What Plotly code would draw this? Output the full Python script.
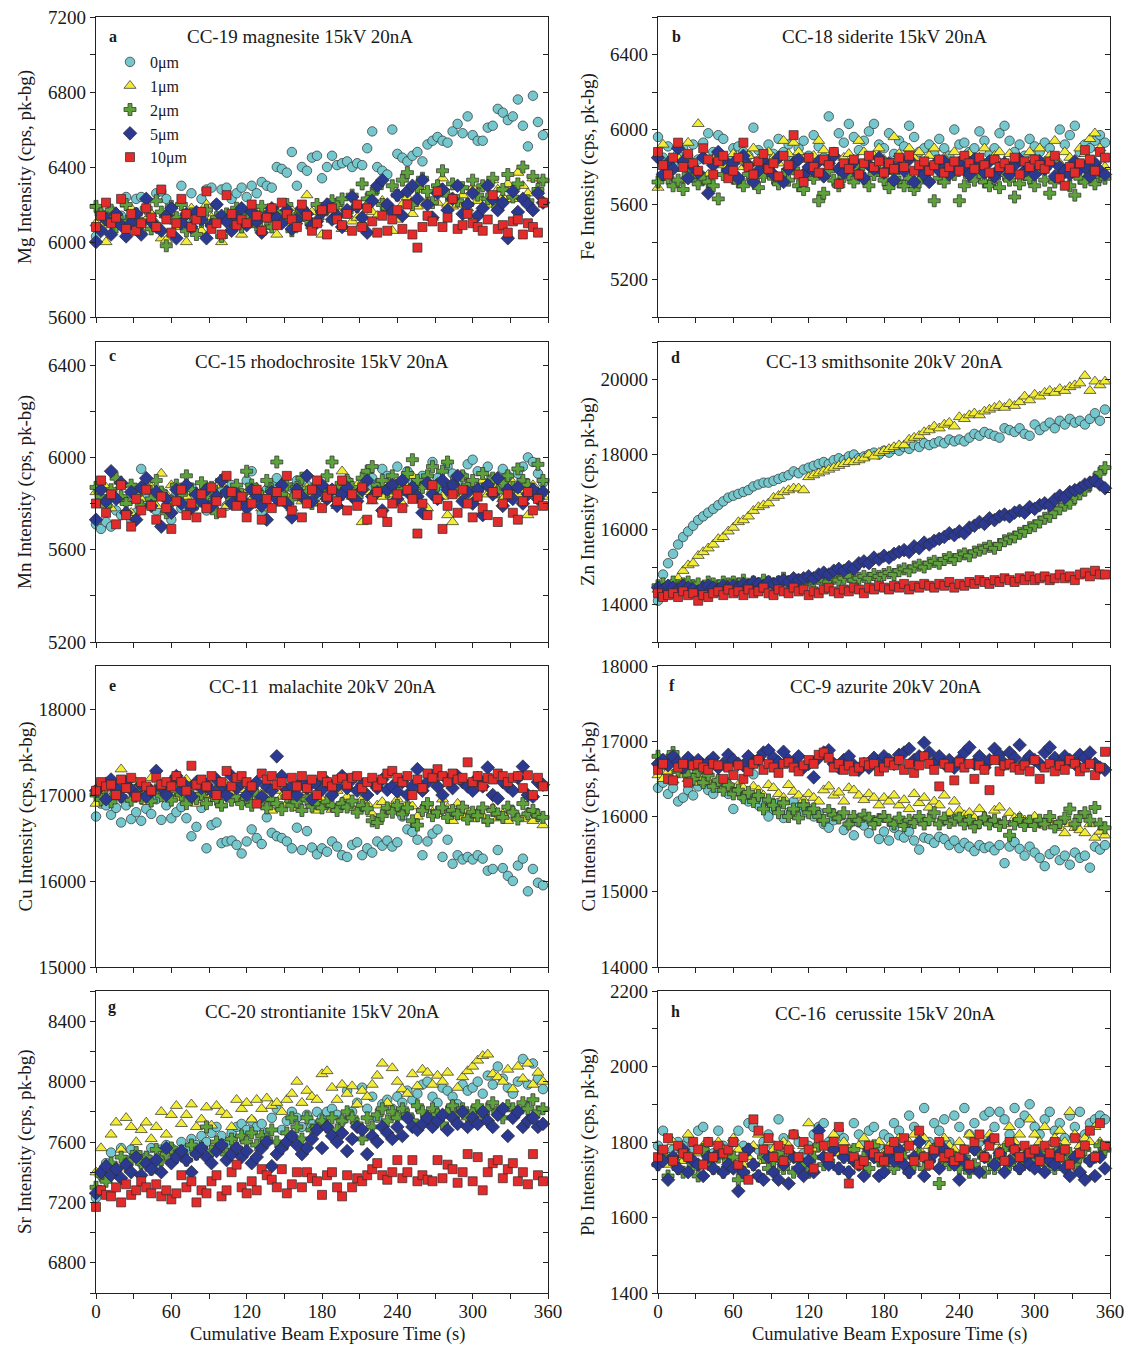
import plotly.graph_objects as go

# ---------------- data ----------------
TIME_S = list(range(0, 360, 4))  # cumulative beam exposure time (s)
SERIES_NAMES = ["0μm", "1μm", "2μm", "5μm", "10μm"]

# a  CC-19 magnesite, Mg intensity
MG_0 = [6030, 6150, 6120, 6170, 6090, 6140, 6240, 6130, 6230, 6240, 6180, 6140, 6260, 6270, 6230,
        6120, 6100, 6300, 6130, 6260, 6150, 6230, 6280, 6290, 6200, 6280, 6290, 6230, 6260, 6290,
        6240, 6300, 6260, 6320, 6300, 6290, 6400, 6390, 6370, 6480, 6300, 6400, 6380, 6450, 6460,
        6340, 6400, 6460, 6410, 6420, 6430, 6400, 6420, 6410, 6500, 6590, 6400, 6380, 6360, 6600,
        6470, 6450, 6430, 6460, 6480, 6430, 6520, 6540, 6560, 6540, 6530, 6590, 6630, 6580, 6670,
        6570, 6540, 6540, 6610, 6620, 6710, 6690, 6650, 6670, 6760, 6620, 6510, 6780, 6640, 6570]
MG_1 = [6100, 6080, 6000, 6130, 6160, 6090, 6200, 6180, 6100, 6060, 6120, 6150, 6100, 6020, 6010,
        6160, 6080, 6120, 6000, 6180, 6120, 6060, 6200, 6130, 6110, 6000, 6140, 6080, 6150, 6040,
        6110, 6130, 6090, 6180, 6080, 6160, 6040, 6120, 6100, 6170, 6110, 6130, 6250, 6160, 6100,
        6040, 6180, 6120, 6190, 6070, 6150, 6110, 6130, 6100, 6200, 6160, 6140, 6220, 6180, 6060,
        6120, 6200, 6240, 6150, 6190, 6280, 6220, 6130, 6210, 6340, 6200, 6190, 6200, 6250, 6180,
        6290, 6220, 6300, 6200, 6330, 6280, 6240, 6310, 6230, 6370, 6300, 6260, 6340, 6280, 6330]
MG_2 = [6190, 6150, 6120, 6170, 6080, 6110, 6200, 6130, 6150, 6100, 6180, 6070, 6220, 6160, 5980,
        6190, 6130, 6200, 6060, 6150, 6040, 6110, 6170, 6090, 6130, 6030, 6150, 6100, 6180, 6080,
        6140, 6160, 6090, 6190, 6120, 6080, 6160, 6110, 6200, 6060, 6140, 6170, 6120, 6080, 6200,
        6150, 6180, 6220, 6200, 6230, 6160, 6250, 6190, 6310, 6230, 6260, 6290, 6200, 6180, 6300,
        6250, 6330, 6370, 6200, 6290, 6340, 6270, 6210, 6300, 6380, 6250, 6310, 6220, 6290, 6200,
        6330, 6250, 6300, 6230, 6340, 6190, 6280, 6360, 6240, 6310, 6400, 6220, 6350, 6280, 6330]
MG_5 = [6000, 6060, 6120, 6040, 6150, 6090, 6030, 6100, 6150, 6040, 6230, 6110, 6080, 6060, 6140,
        6180, 6020, 6100, 6150, 6080, 6160, 6120, 6020, 6090, 6200, 6140, 6110, 6060, 6130, 6180,
        6090, 6160, 6110, 6050, 6140, 6180, 6130, 6100, 6170, 6070, 6120, 6180, 6150, 6090, 6110,
        6160, 6200, 6120, 6140, 6080, 6170, 6240, 6190, 6130, 6050, 6220, 6300, 6330, 6200, 6160,
        6250, 6140, 6270, 6300, 6230, 6330, 6200, 6130, 6260, 6280, 6170, 6230, 6300, 6150, 6200,
        6260, 6140, 6180, 6300, 6230, 6170, 6210, 6020, 6270, 6160, 6230, 6200, 6170, 6260, 6210]
MG_10 = [6080, 6140, 6210, 6100, 6130, 6230, 6070, 6150, 6060, 6100, 6180, 6130, 6080, 6280, 6120,
         6050, 6100, 6230, 6150, 6080, 6120, 6160, 6270, 6070, 6100, 6040, 6250, 6150, 6090, 6120,
         6100, 6200, 6140, 6060, 6130, 6180, 6090, 6210, 6150, 6120, 6080, 6200, 6140, 6060, 6100,
         6170, 6040, 6180, 6120, 6090, 6150, 6060, 6200, 6080, 6180, 6110, 6050, 6140, 6060, 6120,
         6170, 6070, 6200, 6040, 5970, 6080, 6140, 6110, 6270, 6080, 6130, 6230, 6070, 6090, 6150,
         6100, 6080, 6060, 6120, 6250, 6070, 6090, 6050, 6110, 6120, 6040, 6100, 6080, 6050, 6210]

# b  CC-18 siderite, Fe intensity
FE_0 = [5960, 5850, 5910, 5820, 5870, 5900, 5860, 5920, 5840, 5930, 5980, 5880, 5970, 5950, 5840,
        5900, 5910, 5880, 5860, 6010, 5890, 5820, 5920, 5870, 5950, 5880, 5920, 5840, 5900, 5940,
        5860, 5970, 5910, 5850, 6070, 5880, 5980, 5930, 6030, 5960, 5890, 5940, 5990, 6030, 5920,
        5900, 5980, 5870, 5940, 5910, 6020, 5960, 5880, 5900, 5920, 5870, 5950, 5900, 5860, 6000,
        5920, 5930, 5880, 5900, 5990, 5940, 5870, 5900, 5980, 6020, 5940, 5880, 5920, 5860, 5950,
        5910, 5880, 5930, 5900, 5850, 6000, 5920, 5970, 6020, 5880, 5920, 5900, 5940, 5970, 5930]
FE_1 = [5690, 5920, 5830, 5790, 5850, 5730, 5930, 5800, 6030, 5860, 5760, 5840, 5880, 5810, 5790,
        5870, 5830, 5800, 5860, 5900, 5840, 5800, 5880, 5850, 5820, 5940, 5870, 5930, 5880, 5840,
        5800, 5860, 5940, 5890, 5820, 5860, 5800, 5850, 5870, 5830, 5940, 5880, 5820, 5860, 5900,
        5840, 5810, 5960, 5870, 5830, 5900, 5850, 5880, 5820, 5860, 5900, 5840, 5850, 5810, 5880,
        5830, 5860, 5870, 5820, 5850, 5900, 5830, 5860, 5880, 5800, 5870, 5830, 5850, 5820, 5880,
        5840, 5900, 5830, 5860, 5940, 5820, 5880, 5850, 5830, 5900, 5870, 5950, 5980, 5900, 5800]
FE_2 = [5720, 5760, 5740, 5700, 5730, 5680, 5760, 5750, 5710, 5740, 5720, 5700, 5630, 5760, 5780,
        5740, 5720, 5700, 5760, 5730, 5690, 5750, 5780, 5740, 5710, 5760, 5730, 5790, 5700, 5680,
        5760, 5740, 5620, 5660, 5780, 5730, 5700, 5750, 5760, 5720, 5790, 5740, 5700, 5760, 5780,
        5730, 5690, 5770, 5720, 5700, 5740, 5680, 5720, 5760, 5790, 5620, 5740, 5720, 5780, 5760,
        5620, 5700, 5750, 5730, 5770, 5720, 5700, 5740, 5690, 5760, 5730, 5640, 5710, 5760, 5740,
        5700, 5790, 5730, 5660, 5720, 5750, 5780, 5700, 5650, 5740, 5720, 5760, 5710, 5750, 5740]
FE_5 = [5850, 5760, 5820, 5790, 5900, 5830, 5740, 5800, 5770, 5850, 5660, 5810, 5880, 5840, 5780,
        5820, 5740, 5860, 5810, 5720, 5780, 5830, 5800, 5760, 5850, 5720, 5790, 5820, 5840, 5760,
        5800, 5780, 5830, 5750, 5820, 5860, 5790, 5770, 5800, 5830, 5760, 5740, 5810, 5790, 5850,
        5770, 5820, 5730, 5800, 5780, 5840, 5720, 5790, 5760, 5720, 5810, 5780, 5830, 5760, 5800,
        5820, 5790, 5760, 5840, 5810, 5770, 5830, 5750, 5790, 5820, 5760, 5810, 5840, 5780, 5800,
        5760, 5830, 5790, 5820, 5750, 5800, 5780, 5760, 5830, 5790, 5800, 5750, 5820, 5780, 5760]
FE_10 = [5880, 5810, 5760, 5850, 5930, 5800, 5870, 5820, 5780, 5900, 5840, 5760, 5830, 5860, 5740,
         5780, 5850, 5930, 5800, 5760, 5830, 5870, 5790, 5820, 5750, 5860, 5810, 5970, 5760, 5720,
         5850, 5800, 5770, 5840, 5810, 5880, 5710, 5820, 5790, 5840, 5760, 5820, 5860, 5800, 5830,
         5770, 5820, 5790, 5850, 5800, 5860, 5780, 5810, 5830, 5780, 5810, 5840, 5770, 5800, 5830,
         5780, 5860, 5820, 5790, 5850, 5810, 5770, 5840, 5800, 5820, 5790, 5850, 5760, 5830, 5800,
         5840, 5810, 5790, 5830, 5860, 5740, 5700, 5800, 5770, 5820, 5890, 5840, 5780, 5880, 5850]

# c  CC-15 rhodochrosite, Mn intensity
MN_0 = [5710, 5690, 5720, 5700, 5770, 5750, 5810, 5730, 5760, 5950, 5820, 5800, 5770, 5850, 5790,
        5730, 5840, 5780, 5820, 5870, 5800, 5840, 5770, 5810, 5830, 5850, 5790, 5880, 5820, 5800,
        5900, 5940, 5830, 5760, 5860, 5880, 5910, 5840, 5820, 5870, 5900, 5860, 5880, 5850, 5830,
        5850, 5820, 5840, 5860, 5880, 5900, 5850, 5830, 5900, 5870, 5910, 5880, 5950, 5920, 5860,
        5960, 5880, 5940, 5900, 5870, 5920, 5890, 5980, 5910, 5850, 5960, 5930, 5890, 5920, 5970,
        5990, 5940, 5880, 5960, 5910, 5900, 5950, 5920, 5870, 5930, 5960, 6000, 5980, 5930, 5890]
MN_1 = [5850, 5800, 5870, 5780, 5830, 5880, 5810, 5760, 5850, 5820, 5900, 5870, 5790, 5930, 5840,
        5880, 5810, 5860, 5830, 5780, 5850, 5820, 5870, 5800, 5840, 5880, 5790, 5830, 5860, 5810,
        5850, 5820, 5870, 5780, 5840, 5860, 5800, 5890, 5830, 5780, 5860, 5810, 5870, 5840, 5800,
        5880, 5820, 5850, 5790, 5940, 5860, 5830, 5880, 5720, 5850, 5810, 5870, 5830, 5890, 5840,
        5860, 5800, 5870, 5920, 5840, 5880, 5780, 5860, 5890, 5830, 5750, 5720, 5870, 5840, 5880,
        5820, 5860, 5900, 5840, 5880, 5860, 5820, 5870, 5890, 5840, 5860, 5750, 5880, 5850, 5830]
MN_2 = [5870, 5830, 5790, 5860, 5910, 5830, 5800, 5880, 5840, 5790, 5870, 5820, 5900, 5850, 5760,
        5810, 5880, 5840, 5920, 5860, 5800, 5890, 5830, 5870, 5760, 5900, 5850, 5820, 5880, 5840,
        5940, 5880, 5850, 5830, 5900, 5860, 5980, 5840, 5880, 5820, 5870, 5910, 5850, 5800, 5880,
        5860, 5920, 5980, 5870, 5840, 5900, 5870, 5830, 5910, 5940, 5960, 5880, 5900, 5850, 5920,
        5880, 5860, 5930, 5990, 5900, 5870, 5920, 5960, 5880, 5940, 5980, 5890, 5860, 5920, 5880,
        5900, 5860, 5930, 5880, 5910, 5850, 5890, 5920, 5870, 5950, 5900, 5880, 5860, 5970, 5900]
MN_5 = [5730, 5860, 5810, 5940, 5820, 5890, 5760, 5850, 5730, 5870, 5910, 5790, 5850, 5700, 5820,
        5760, 5860, 5800, 5880, 5780, 5840, 5810, 5860, 5790, 5830, 5900, 5850, 5800, 5840, 5820,
        5780, 5860, 5830, 5790, 5730, 5850, 5820, 5880, 5800, 5740, 5860, 5830, 5920, 5810, 5850,
        5880, 5820, 5860, 5790, 5840, 5870, 5830, 5810, 5860, 5900, 5830, 5850, 5770, 5860, 5880,
        5820, 5900, 5850, 5870, 5830, 5760, 5890, 5840, 5820, 5900, 5860, 5880, 5920, 5810, 5850,
        5800, 5860, 5750, 5880, 5840, 5910, 5790, 5860, 5820, 5870, 5800, 5840, 5860, 5820, 5850]
MN_10 = [5800, 5900, 5760, 5840, 5710, 5880, 5750, 5700, 5820, 5770, 5860, 5790, 5730, 5830, 5780,
         5690, 5810, 5860, 5750, 5800, 5740, 5840, 5780, 5870, 5810, 5760, 5920, 5850, 5790, 5830,
         5740, 5800, 5860, 5730, 5820, 5780, 5850, 5810, 5920, 5770, 5840, 5740, 5800, 5860, 5900,
         5780, 5830, 5860, 5810, 5900, 5770, 5840, 5790, 5870, 5730, 5820, 5850, 5760, 5720, 5800,
         5840, 5780, 5860, 5820, 5670, 5800, 5750, 5880, 5820, 5690, 5790, 5840, 5760, 5860, 5800,
         5740, 5830, 5780, 5750, 5850, 5720, 5800, 5840, 5760, 5730, 5810, 5850, 5770, 5820, 5790]

# d  CC-13 smithsonite, Zn intensity
ZN_0 = [14100, 14800, 15100, 15350, 15600, 15800, 15950, 16100, 16250, 16350, 16450, 16550, 16650, 16750, 16850,
        16900, 16950, 17000, 17050, 17150, 17200, 17250, 17250, 17300, 17350, 17400, 17450, 17550, 17500, 17600,
        17650, 17700, 17750, 17800, 17750, 17850, 17900, 17850, 17950, 18000, 17900, 17950, 18000, 18050, 18000,
        18100, 18050, 18150, 18100, 18200, 18150, 18250, 18200, 18300, 18250, 18300, 18350, 18300, 18400, 18350,
        18400, 18350, 18450, 18550, 18500, 18600, 18550, 18500, 18450, 18700, 18650, 18600, 18700, 18550, 18500,
        18800, 18650, 18750, 18850, 18700, 18900, 18800, 18950, 18850, 18900, 18800, 18950, 19100, 18900, 19200]
ZN_1 = [14400, 14450, 14500, 14600, 14700, 14900, 15050, 15100, 15300, 15400, 15500, 15600, 15750, 15800, 15950,
        16050, 16200, 16250, 16350, 16500, 16600, 16650, 16700, 16850, 16900, 17000, 17050, 17100, 17100, 17050,
        17400, 17450, 17500, 17550, 17600, 17650, 17700, 17750, 17800, 17800, 17850, 17900, 18000, 17950, 18050,
        18100, 18150, 18200, 18250, 18250, 18400, 18450, 18500, 18600, 18650, 18750, 18700, 18800, 18850, 18750,
        19000, 18950, 19050, 19100, 19050, 19150, 19200, 19250, 19300, 19250, 19350, 19300, 19400, 19550, 19450,
        19600, 19550, 19650, 19700, 19650, 19750, 19700, 19800, 19850, 19900, 20100, 19700, 19950, 19850, 19950]
ZN_2 = [14500, 14550, 14450, 14600, 14500, 14550, 14600, 14500, 14550, 14450, 14600, 14550, 14500, 14600, 14550,
        14600, 14550, 14650, 14500, 14600, 14550, 14650, 14600, 14550, 14600, 14700, 14600, 14550, 14650, 14600,
        14650, 14600, 14700, 14650, 14600, 14700, 14650, 14700, 14750, 14650, 14700, 14750, 14700, 14800, 14750,
        14800, 14850, 14800, 14900, 14950, 14900, 15000, 15050, 15000, 15100, 15150, 15100, 15200, 15250, 15200,
        15300, 15350, 15300, 15400, 15450, 15500, 15550, 15500, 15600, 15700, 15750, 15800, 15900, 15950, 16050,
        16100, 16200, 16300, 16350, 16450, 16550, 16650, 16700, 16850, 16950, 17050, 17200, 17350, 17500, 17650]
ZN_5 = [14450, 14400, 14500, 14450, 14400, 14500, 14450, 14400, 14350, 14450, 14500, 14450, 14400, 14500, 14450,
        14500, 14450, 14550, 14500, 14600, 14550, 14500, 14600, 14550, 14600, 14650, 14600, 14700, 14650, 14700,
        14750, 14700, 14800, 14850, 14800, 14900, 14950, 14900, 15000, 14950, 15100, 15150, 15100, 15250, 15200,
        15300, 15250, 15350, 15400, 15450, 15400, 15550, 15500, 15650, 15600, 15700, 15750, 15800, 15900, 15850,
        15950, 15900, 16050, 16100, 16200, 16150, 16300, 16250, 16350, 16400, 16350, 16450, 16500, 16450, 16600,
        16550, 16650, 16700, 16650, 16800, 16900, 16850, 17000, 17050, 17100, 17200, 17250, 17300, 17200, 17100]
ZN_10 = [14300, 14200, 14250, 14300, 14200, 14350, 14250, 14300, 14100, 14250, 14200, 14300, 14350, 14250, 14400,
         14300, 14350, 14250, 14400, 14300, 14350, 14450, 14300, 14250, 14400, 14350, 14300, 14450, 14350, 14400,
         14250, 14350, 14300, 14400, 14450, 14350, 14300, 14400, 14350, 14450, 14400, 14300, 14450, 14400, 14500,
         14450, 14400, 14500, 14450, 14550, 14400, 14500, 14450, 14550, 14500, 14450, 14550, 14500, 14600, 14450,
         14550, 14500, 14600, 14550, 14650, 14600, 14550, 14650, 14600, 14700, 14650, 14600, 14700, 14650, 14750,
         14650, 14700, 14750, 14650, 14700, 14800, 14700, 14750, 14650, 14800, 14850, 14750, 14900, 14800, 14800]

# e  CC-11 malachite, Cu intensity
CUM_0 = [16750, 16900, 16880, 16770, 16850, 16680, 16880, 16720, 16800, 16700, 16840, 16780, 16950, 16710, 16880,
         16730, 16800, 16860, 16730, 16520, 16630, 16850, 16380, 16650, 16680, 16440, 16460, 16470, 16420, 16320,
         16460, 16600, 16500, 16430, 16740, 16560, 16520, 16500, 16460, 16380, 16620, 16360, 16580, 16390, 16310,
         16380, 16340, 16460, 16400, 16300, 16280, 16420, 16450, 16300, 16380, 16330, 16460, 16410, 16470, 16400,
         16450, 16750, 16600, 16570, 16480, 16300, 16460, 16550, 16600, 16280, 16480, 16200, 16300, 16250, 16280,
         16250, 16300, 16260, 16120, 16140, 16360, 16150, 16060, 16000, 16180, 16260, 15880, 16140, 15980, 15950]
CUM_1 = [16900, 17000, 17150, 16980, 17050, 17300, 17100, 16950, 17150, 17080, 16920, 17200, 17050, 17120, 17000,
         17080, 16970, 17050, 17180, 17020, 16900, 17100, 17000, 16960, 17080, 16880, 17120, 17020, 16950, 17060,
         16980, 17100, 16900, 17020, 16950, 16820, 17050, 16980, 16900, 17000, 16850, 16950, 17030, 16880, 16820,
         16950, 16880, 16830, 17050, 16920, 16980, 16850, 16820, 16950, 16900, 16780, 16880, 16920, 16830, 16870,
         16950, 16800, 16900, 16870, 16750, 16850, 16900, 16800, 16780, 16950, 16850, 16700, 16900, 16750, 16820,
         16720, 16800, 16760, 16700, 16850, 16730, 16780, 16700, 16820, 16740, 16720, 16800, 16700, 16760, 16650]
CUM_2 = [17000, 16950, 17080, 16920, 17020, 16980, 17100, 16940, 17050, 16970, 17000, 16930, 17060, 16990, 17030,
         16940, 17050, 17000, 16900, 17080, 16960, 17010, 16900, 17030, 16950, 16880, 17000, 16940, 16980, 16900,
         16960, 16880, 17000, 16920, 16850, 16950, 16900, 16830, 16980, 16880, 16920, 16820, 16950, 16870, 16900,
         16850, 16920, 16880, 16820, 16900, 16860, 16930, 16800, 16880, 16840, 16700, 16680, 16760, 16850, 16800,
         16880, 16780, 16850, 16700, 16650, 16820, 16900, 16760, 16800, 16850, 16740, 16820, 16780, 16860, 16720,
         16800, 16760, 16850, 16700, 16820, 16780, 16740, 16860, 16800, 16720, 16900, 16780, 16820, 16760, 16740]
CUM_5 = [17050, 17100, 16950, 17180, 17080, 16980, 17150, 17060, 17000, 17120, 16980, 17050, 17280, 17100, 17000,
         17150, 17220, 17060, 17100, 16980, 17150, 17080, 17120, 17050, 17180, 17100, 17000, 17220, 17080, 17140,
         17000, 17080, 17150, 16980, 17100, 17050, 17450, 17220, 17060, 17100, 17000, 17150, 17080, 16950, 17120,
         17060, 17150, 17000, 17100, 17220, 17080, 17180, 17050, 17120, 17000, 17150, 17080, 17180, 17060, 17100,
         17040, 17150, 17000, 17100, 17300, 17050, 17150, 17220, 17100, 17000, 17180, 17080, 17220, 17150, 17100,
         17050, 17200, 17100, 17320, 17000, 16960, 17150, 17100, 17050, 17200, 17330, 17000, 16980, 17150, 17120]
CUM_10 = [17050, 17150, 17100, 17120, 17000, 17180, 17080, 17200, 16980, 17150, 17100, 17050, 17200, 17120, 17150,
          17100, 17220, 17150, 17050, 17340, 17120, 17180, 17100, 17220, 17000, 17150, 17280, 17100, 17200, 17220,
          17150, 17100, 16900, 17250, 17180, 17220, 17120, 17150, 17000, 17200, 17100, 17220, 17080, 17180, 17000,
          17220, 17150, 17100, 17180, 17200, 17120, 17200, 17220, 17080, 17150, 17200, 17100, 17180, 17250, 17280,
          17200, 17150, 17220, 17000, 17180, 17080, 17250, 17200, 17300, 17220, 17150, 17250, 17180, 17200, 17380,
          17150, 17220, 17100, 17200, 17180, 17250, 17220, 17150, 17200, 17220, 17080, 17230, 17000, 17200, 17100]

# f  CC-9 azurite, Cu intensity
CUA_0 = [16380, 16450, 16300, 16380, 16200, 16250, 16350, 16280, 16400, 16450, 16350, 16300, 16380, 16420, 16300,
         16100, 16350, 16250, 16200, 16560, 16150, 16200, 16000, 16100, 16180, 15980, 16050, 16200, 16120, 16050,
         16100, 16000, 16050, 15900, 15850, 15950, 16000, 15820, 15900, 15750, 15920, 15880, 15780, 15950, 15700,
         15800, 15680, 15850, 15750, 15720, 15800, 15680, 15560, 15720, 15700, 15650, 15730, 15700, 15620, 15680,
         15580, 15650, 15600, 15540, 15620, 15580, 15600, 15550, 15620, 15380, 15600, 15660, 15570, 15480, 15600,
         15520, 15450, 15340, 15500, 15550, 15420, 15480, 15360, 15520, 15450, 15480, 15320, 15600, 15560, 15620]
CUA_1 = [16550, 16500, 16600, 16480, 16620, 16550, 16500, 16450, 16600, 16520, 16480, 16420, 16500, 16380, 16450,
         16350, 16420, 16380, 16300, 16400, 16350, 16280, 16420, 16380, 16300, 16250, 16420, 16330, 16280, 16220,
         16300, 16250, 16200, 16350, 16400, 16280, 16320, 16200, 16380, 16350, 16280, 16220, 16300, 16250, 16150,
         16250, 16200, 16280, 16150, 16220, 16100, 16300, 16180, 16250, 16120, 16200, 16150, 16280, 16050, 16200,
         16080, 16020, 16050, 15980, 16100, 16000, 15950, 16080, 16120, 15900, 16050, 15980, 16000, 15950, 15920,
         16000, 15950, 15880, 15980, 15920, 15850, 15780, 15900, 15850, 15820, 15780, 15900, 15720, 15800, 15750]
CUA_2 = [16800, 16700, 16750, 16850, 16600, 16650, 16550, 16500, 16600, 16450, 16550, 16400, 16480, 16350, 16420,
         16300, 16350, 16250, 16320, 16200, 16280, 16100, 16220, 16150, 16050, 16180, 16000, 16100, 15980, 16150,
         16050, 16100, 16000, 15950, 16080, 16020, 15980, 16050, 15900, 16000, 15950, 16020, 15980, 15900, 15960,
         16000, 15950, 15900, 15980, 15880, 15950, 15920, 16000, 15900, 15960, 16050, 15900, 15980, 15920, 15950,
         15980, 15900, 15950, 15860, 15920, 15980, 15900, 15950, 15880, 15920, 15750, 15900, 15960, 15880, 15940,
         15880, 15950, 15900, 16000, 15860, 15920, 15980, 16100, 15900, 16000, 16050, 15950, 16120, 15900, 15850]
CUA_5 = [16700, 16750, 16680, 16800, 16720, 16650, 16780, 16700, 16750, 16680, 16720, 16780, 16650, 16700, 16820,
         16750, 16700, 16680, 16800, 16720, 16760, 16850, 16880, 16780, 16720, 16860, 16750, 16700, 16800, 16650,
         16700, 16520, 16780, 16850, 16880, 16700, 16650, 16750, 16800, 16680, 16620, 16700, 16650, 16780, 16700,
         16800, 16750, 16700, 16820, 16850, 16900, 16750, 16800, 16980, 16850, 16720, 16800, 16700, 16750, 16650,
         16750, 16850, 16920, 16700, 16800, 16650, 16750, 16900, 16820, 16700, 16850, 16780, 16950, 16720, 16800,
         16750, 16700, 16850, 16920, 16780, 16700, 16800, 16750, 16700, 16820, 16780, 16850, 16700, 16650, 16620]
CUA_10 = [16620, 16700, 16500, 16480, 16650, 16700, 16450, 16680, 16700, 16650, 16620, 16700, 16680, 16500, 16650,
          16550, 16680, 16500, 16600, 16700, 16750, 16620, 16700, 16650, 16580, 16700, 16720, 16650, 16600, 16680,
          16750, 16700, 16820, 16850, 16780, 16650, 16700, 16620, 16680, 16600, 16650, 16720, 16680, 16700, 16600,
          16650, 16720, 16680, 16750, 16620, 16700, 16580, 16680, 16800, 16700, 16620, 16400, 16700, 16650, 16480,
          16720, 16650, 16700, 16500, 16680, 16620, 16350, 16750, 16600, 16680, 16700, 16650, 16620, 16680, 16600,
          16750, 16500, 16650, 16700, 16600, 16680, 16620, 16750, 16700, 16600, 16650, 16700, 16550, 16650, 16860]

# g  CC-20 strontianite, Sr intensity
SR_0 = [7230, 7380, 7460, 7530, 7400, 7560, 7480, 7550, 7520, 7460, 7500, 7560, 7420, 7550, 7580,
        7560, 7520, 7600, 7550, 7620, 7580, 7640, 7600, 7660, 7700, 7640, 7580, 7660, 7700, 7720,
        7680, 7740, 7700, 7720, 7660, 7760, 7820, 7680, 7740, 7800, 7760, 7700, 7780, 7720, 7800,
        7760, 7800, 7820, 7780, 7740, 7940, 7800, 7860, 7960, 7820, 7900, 7760, 7850, 7880, 7820,
        7900, 7860, 7940, 7880, 7920, 7980, 8000, 7900, 7860, 7960, 7940, 7900, 7850, 7980, 7940,
        7960, 8000, 7920, 8040, 7980, 8100, 8020, 7960, 7920, 8000, 8150, 7980, 8120, 8020, 7950]
SR_1 = [7400, 7560, 7450, 7650, 7730, 7550, 7760, 7700, 7600, 7680, 7730, 7620, 7700, 7800, 7650,
        7780, 7840, 7720, 7780, 7850, 7700, 7750, 7830, 7710, 7840, 7800, 7780, 7700, 7880, 7820,
        7860, 7750, 7880, 7820, 7890, 7840, 7860, 7800, 7880, 7920, 8000, 7860, 7940, 7900, 7880,
        8050, 8070, 7960, 7880, 7980, 7920, 7970, 7850, 7940, 7900, 7980, 8040, 8120, 7860, 8090,
        8000, 7950, 7920, 8050, 7970, 8080, 8060, 7980, 8040, 8000, 8060, 7850, 7960, 8030, 8070,
        8100, 8140, 8170, 8180, 8050, 8030, 8000, 8080, 7950, 8100, 8020, 8120, 7980, 8060, 8000]
SR_2 = [7300, 7380, 7340, 7460, 7420, 7500, 7440, 7480, 7530, 7460, 7500, 7420, 7550, 7480, 7520,
        7560, 7500, 7540, 7480, 7580, 7520, 7560, 7700, 7540, 7600, 7580, 7520, 7620, 7560, 7640,
        7600, 7660, 7580, 7640, 7620, 7680, 7600, 7560, 7660, 7760, 7700, 7620, 7760, 7680, 7700,
        7740, 7700, 7760, 7680, 7740, 7800, 7760, 7720, 7620, 7760, 7700, 7780, 7820, 7740, 7800,
        7760, 7820, 7780, 7740, 7840, 7800, 7760, 7820, 7780, 7720, 7800, 7840, 7780, 7820, 7760,
        7800, 7840, 7780, 7820, 7860, 7800, 7760, 7840, 7820, 7800, 7860, 7820, 7880, 7800, 7820]
SR_5 = [7260, 7400, 7440, 7380, 7420, 7360, 7450, 7400, 7500, 7380, 7460, 7420, 7480, 7400, 7560,
        7460, 7500, 7540, 7480, 7400, 7520, 7560, 7500, 7460, 7540, 7580, 7480, 7520, 7560, 7500,
        7540, 7460, 7500, 7560, 7600, 7440, 7520, 7560, 7600, 7640, 7580, 7520, 7560, 7620, 7680,
        7560, 7700, 7640, 7600, 7660, 7540, 7620, 7700, 7680, 7520, 7640, 7600, 7700, 7660, 7620,
        7700, 7640, 7760, 7700, 7680, 7720, 7760, 7700, 7740, 7780, 7680, 7760, 7720, 7800, 7700,
        7760, 7720, 7800, 7740, 7700, 7780, 7820, 7640, 7760, 7800, 7700, 7740, 7760, 7700, 7720]
SR_10 = [7170, 7280, 7250, 7240, 7300, 7200, 7320, 7250, 7280, 7340, 7300, 7260, 7320, 7240, 7280,
         7220, 7260, 7380, 7300, 7340, 7200, 7280, 7260, 7340, 7380, 7240, 7280, 7400, 7450, 7300,
         7260, 7340, 7280, 7420, 7380, 7350, 7300, 7420, 7260, 7320, 7400, 7300, 7400, 7360, 7340,
         7250, 7380, 7400, 7300, 7240, 7380, 7300, 7360, 7340, 7380, 7420, 7460, 7380, 7350, 7400,
         7480, 7360, 7400, 7480, 7340, 7380, 7350, 7340, 7480, 7360, 7450, 7420, 7330, 7400, 7520,
         7340, 7500, 7280, 7400, 7460, 7480, 7360, 7420, 7460, 7340, 7400, 7320, 7520, 7380, 7340]

# h  CC-16 cerussite, Pb intensity
PB_0 = [1790, 1830, 1760, 1780, 1800, 1790, 1810, 1780, 1830, 1840, 1800, 1770, 1830, 1790, 1760,
        1800, 1830, 1790, 1850, 1840, 1780, 1800, 1820, 1790, 1860, 1810, 1780, 1820, 1800, 1770,
        1790, 1820, 1840, 1850, 1800, 1790, 1830, 1810, 1780, 1850, 1820, 1800, 1830, 1840, 1790,
        1820, 1810, 1850, 1830, 1780, 1870, 1840, 1820, 1890, 1800, 1850, 1830, 1860, 1800, 1870,
        1840, 1890, 1820, 1850, 1800, 1870, 1880, 1840, 1880, 1860, 1820, 1890, 1850, 1870, 1900,
        1840, 1820, 1860, 1880, 1830, 1850, 1810, 1870, 1840, 1880, 1820, 1850, 1860, 1870, 1860]
PB_1 = [1750, 1770, 1740, 1800, 1760, 1750, 1820, 1740, 1770, 1790, 1750, 1760, 1800, 1780, 1760,
        1810, 1780, 1740, 1760, 1790, 1820, 1750, 1800, 1780, 1760, 1800, 1790, 1820, 1760, 1790,
        1850, 1780, 1800, 1760, 1790, 1820, 1770, 1800, 1780, 1750, 1790, 1810, 1760, 1780, 1800,
        1770, 1790, 1760, 1810, 1780, 1800, 1820, 1780, 1810, 1790, 1770, 1800, 1810, 1790, 1780,
        1800, 1780, 1820, 1790, 1810, 1770, 1820, 1800, 1780, 1790, 1840, 1800, 1820, 1780, 1860,
        1820, 1800, 1840, 1780, 1810, 1830, 1800, 1880, 1820, 1790, 1810, 1800, 1840, 1800, 1780]
PB_2 = [1740, 1760, 1710, 1750, 1730, 1720, 1760, 1740, 1710, 1780, 1750, 1730, 1760, 1720, 1750,
        1760, 1700, 1720, 1780, 1740, 1710, 1760, 1730, 1750, 1770, 1730, 1760, 1720, 1750, 1740,
        1720, 1760, 1790, 1740, 1750, 1780, 1730, 1760, 1720, 1780, 1740, 1760, 1730, 1790, 1750,
        1740, 1770, 1730, 1750, 1760, 1720, 1740, 1770, 1730, 1750, 1780, 1690, 1750, 1740, 1760,
        1730, 1760, 1720, 1740, 1770, 1720, 1750, 1730, 1760, 1780, 1740, 1760, 1730, 1750, 1770,
        1750, 1770, 1740, 1760, 1730, 1780, 1750, 1770, 1740, 1760, 1780, 1750, 1760, 1790, 1780]
PB_5 = [1740, 1750, 1700, 1760, 1730, 1780, 1720, 1750, 1740, 1710, 1760, 1730, 1770, 1720, 1740,
        1730, 1670, 1720, 1780, 1740, 1710, 1700, 1760, 1720, 1700, 1740, 1690, 1760, 1730, 1710,
        1750, 1720, 1830, 1760, 1740, 1780, 1730, 1760, 1720, 1750, 1740, 1710, 1780, 1760, 1710,
        1720, 1760, 1750, 1780, 1740, 1720, 1760, 1800, 1710, 1750, 1770, 1730, 1780, 1760, 1740,
        1700, 1750, 1730, 1780, 1720, 1760, 1800, 1740, 1770, 1720, 1750, 1780, 1730, 1760, 1740,
        1730, 1760, 1720, 1750, 1740, 1770, 1730, 1710, 1760, 1720, 1700, 1750, 1710, 1760, 1730]
PB_10 = [1760, 1780, 1810, 1750, 1790, 1770, 1760, 1800, 1780, 1740, 1800, 1760, 1790, 1770, 1780,
         1800, 1740, 1760, 1700, 1860, 1830, 1780, 1810, 1760, 1790, 1750, 1780, 1820, 1760, 1800,
         1780, 1730, 1810, 1790, 1760, 1800, 1840, 1780, 1690, 1760, 1740, 1750, 1790, 1770, 1760,
         1750, 1780, 1800, 1760, 1810, 1790, 1750, 1830, 1760, 1740, 1780, 1800, 1760, 1770, 1750,
         1760, 1780, 1740, 1800, 1820, 1760, 1790, 1810, 1770, 1750, 1800, 1780, 1760, 1790, 1770,
         1780, 1750, 1790, 1770, 1800, 1760, 1780, 1740, 1810, 1770, 1790, 1830, 1760, 1850, 1790]

X_TICKS = [0, 30, 60, 90, 120, 150, 180, 210, 240, 270, 300, 330, 360]
X_TICK_LABELS = ["0", "", "60", "", "120", "", "180", "", "240", "", "300", "", "360"]

# ---------------- styling ----------------
W, H = 1132, 1347
FONT = "Liberation Serif, Times New Roman, serif"
MARKERS = [
    dict(symbol="circle", color="#74C8CD", size=9.5),
    dict(symbol="triangle-up", color="#F2EC34", size=10.5),
    dict(symbol="cross", color="#5DA23B", size=10),
    dict(symbol="diamond", color="#2B3990", size=10.5),
    dict(symbol="square", color="#E42B2B", size=9),
]

COLS = [(96, 548), (658, 1110)]
ROWS = [(17, 317), (342, 642), (666, 967), (991, 1293)]

PANELS = [
    dict(letter="a", title="CC-19 magnesite 15kV 20nA", ylab="Mg Intensity (cps, pk-bg)",
         series=[MG_0, MG_1, MG_2, MG_5, MG_10], yr=[5600, 7200],
         lab=[5600, 6000, 6400, 6800, 7200], step=200, tx=300, ty=37, lx=113, ly=37),
    dict(letter="b", title="CC-18 siderite 15kV 20nA", ylab="Fe Intensity (cps, pk-bg)",
         series=[FE_0, FE_1, FE_2, FE_5, FE_10], yr=[5000, 6600],
         lab=[5200, 5600, 6000, 6400], step=200, tx=884, ty=37, lx=676, ly=37),
    dict(letter="c", title="CC-15 rhodochrosite 15kV 20nA", ylab="Mn Intensity (cps, pk-bg)",
         series=[MN_0, MN_1, MN_2, MN_5, MN_10], yr=[5200, 6500],
         lab=[5200, 5600, 6000, 6400], step=200, tx=322, ty=361, lx=112, ly=355),
    dict(letter="d", title="CC-13 smithsonite 20kV 20nA", ylab="Zn Intensity (cps, pk-bg)",
         series=[ZN_0, ZN_1, ZN_2, ZN_5, ZN_10], yr=[13000, 21000],
         lab=[14000, 16000, 18000, 20000], step=1000, tx=884, ty=361, lx=675, ly=358),
    dict(letter="e", title="CC-11  malachite 20kV 20nA", ylab="Cu Intensity (cps, pk-bg)",
         series=[CUM_0, CUM_1, CUM_2, CUM_5, CUM_10], yr=[15000, 18500],
         lab=[15000, 16000, 17000, 18000], step=1000, tx=322, ty=686, lx=112, ly=685),
    dict(letter="f", title="CC-9 azurite 20kV 20nA", ylab="Cu Intensity (cps, pk-bg)",
         series=[CUA_0, CUA_1, CUA_2, CUA_5, CUA_10], yr=[14000, 18000],
         lab=[14000, 15000, 16000, 17000, 18000], step=1000, tx=885, ty=686, lx=672, ly=685),
    dict(letter="g", title="CC-20 strontianite 15kV 20nA", ylab="Sr Intensity (cps, pk-bg)",
         series=[SR_0, SR_1, SR_2, SR_5, SR_10], yr=[6600, 8600],
         lab=[6800, 7200, 7600, 8000, 8400], step=200, tx=322, ty=1011, lx=112, ly=1007),
    dict(letter="h", title="CC-16  cerussite 15kV 20nA", ylab="Pb Intensity (cps, pk-bg)",
         series=[PB_0, PB_1, PB_2, PB_5, PB_10], yr=[1400, 2200],
         lab=[1400, 1600, 1800, 2000, 2200], step=100, tx=885, ty=1013, lx=675, ly=1011),
]


def px(x):
    return x / W


def py(y):
    return 1 - y / H


fig = go.Figure()
layout = dict(width=W, height=H, margin=dict(l=0, r=0, t=0, b=0, pad=0, autoexpand=False),
              paper_bgcolor="white", plot_bgcolor="white",
              font=dict(family=FONT, size=19, color="#1a1a1a"))
annotations = []

for k, p in enumerate(PANELS):
    n = k + 1
    r, c = divmod(k, 2)
    x0, x1 = COLS[c]
    y0, y1 = ROWS[r]
    xa = f"xaxis{n}" if n > 1 else "xaxis"
    ya = f"yaxis{n}" if n > 1 else "yaxis"
    yr_name = f"yaxis{n + 8}"
    bottom = r == 3
    layout[xa] = dict(domain=[px(x0), px(x1)], anchor=f"y{n}", range=[0, 360],
                      automargin=False, ticklabelstandoff=-4,
                      showline=True, linecolor="#222", linewidth=1.3, mirror=True,
                      ticks="outside", ticklen=5, tickwidth=1.1, tickcolor="#222",
                      tickvals=X_TICKS, ticktext=X_TICK_LABELS,
                      showticklabels=bottom, showgrid=False, zeroline=False,
                      tickfont=dict(family=FONT, size=19))
    all_ticks = list(range(p["yr"][0], p["yr"][1] + 1, p["step"]))
    layout[ya] = dict(domain=[py(y1), py(y0)], anchor=f"x{n}", range=p["yr"],
                      automargin=False,
                      showline=True, linecolor="#222", linewidth=1.3, mirror=True,
                      ticks="outside", ticklen=5, tickwidth=1.1, tickcolor="#222",
                      tickvals=all_ticks,
                      ticktext=[str(v) if v in p["lab"] else "" for v in all_ticks],
                      showgrid=False, zeroline=False,
                      tickfont=dict(family=FONT, size=19))
    layout[yr_name] = dict(overlaying=f"y{n}", anchor=f"x{n}", side="right",
                           range=p["yr"], tickvals=all_ticks, ticks="inside",
                           automargin=False,
                           ticklen=5, tickwidth=1.1, tickcolor="#222",
                           showticklabels=False, showline=False, showgrid=False,
                           zeroline=False)
    fig.add_trace(go.Scatter(x=[None], y=[None], xaxis=f"x{n}", yaxis=f"y{n + 8}",
                             showlegend=False, hoverinfo="skip", mode="markers"))

    for s, (vals, m) in enumerate(zip(p["series"], MARKERS)):
        fig.add_trace(go.Scatter(
            x=TIME_S, y=vals, mode="markers", name=SERIES_NAMES[s],
            xaxis=f"x{n}", yaxis=f"y{n}", cliponaxis=False,
            showlegend=(k == 0), legendgroup=SERIES_NAMES[s],
            marker=dict(symbol=m["symbol"], color=m["color"], size=m["size"],
                        line=dict(color="#2b2b2b", width=0.7))))

    # panel title & letter
    annotations.append(dict(x=px(p["tx"]), y=py(p["ty"]), xref="paper", yref="paper",
                            text=p["title"], showarrow=False,
                            font=dict(family=FONT, size=19, color="#1a1a1a"),
                            xanchor="center", yanchor="middle"))
    annotations.append(dict(x=px(p["lx"]), y=py(p["ly"]), xref="paper", yref="paper",
                            text=f"<b>{p['letter']}</b>", showarrow=False,
                            font=dict(family=FONT, size=16, color="#1a1a1a"),
                            xanchor="center", yanchor="middle"))
    # y axis title
    annotations.append(dict(x=px(25 if c == 0 else 588), y=py((y0 + y1) / 2),
                            xref="paper", yref="paper", text=p["ylab"], textangle=-90,
                            showarrow=False,
                            font=dict(family=FONT, size=19, color="#1a1a1a"),
                            xanchor="center", yanchor="middle"))
    if bottom:
        annotations.append(dict(x=px((x0 + x1) / 2 + 5), y=py(1334.5), xref="paper",
                                yref="paper", text="Cumulative Beam Exposure Time (s)",
                                showarrow=False,
                                font=dict(family=FONT, size=18.5, color="#1a1a1a"),
                                xanchor="center", yanchor="middle"))

layout["annotations"] = annotations
layout["showlegend"] = True
layout["legend"] = dict(x=px(110), y=py(45), xanchor="left", yanchor="top",
                        bgcolor="rgba(0,0,0,0)", borderwidth=0, itemwidth=30,
                        tracegroupgap=0, font=dict(family=FONT, size=16, color="#1a1a1a"))
fig.update_layout(**layout)
fig.write_html(
    "out.html",
    config={"displayModeBar": False},
    post_script="document.body.style.margin='0';document.body.style.overflow='hidden';",
)
